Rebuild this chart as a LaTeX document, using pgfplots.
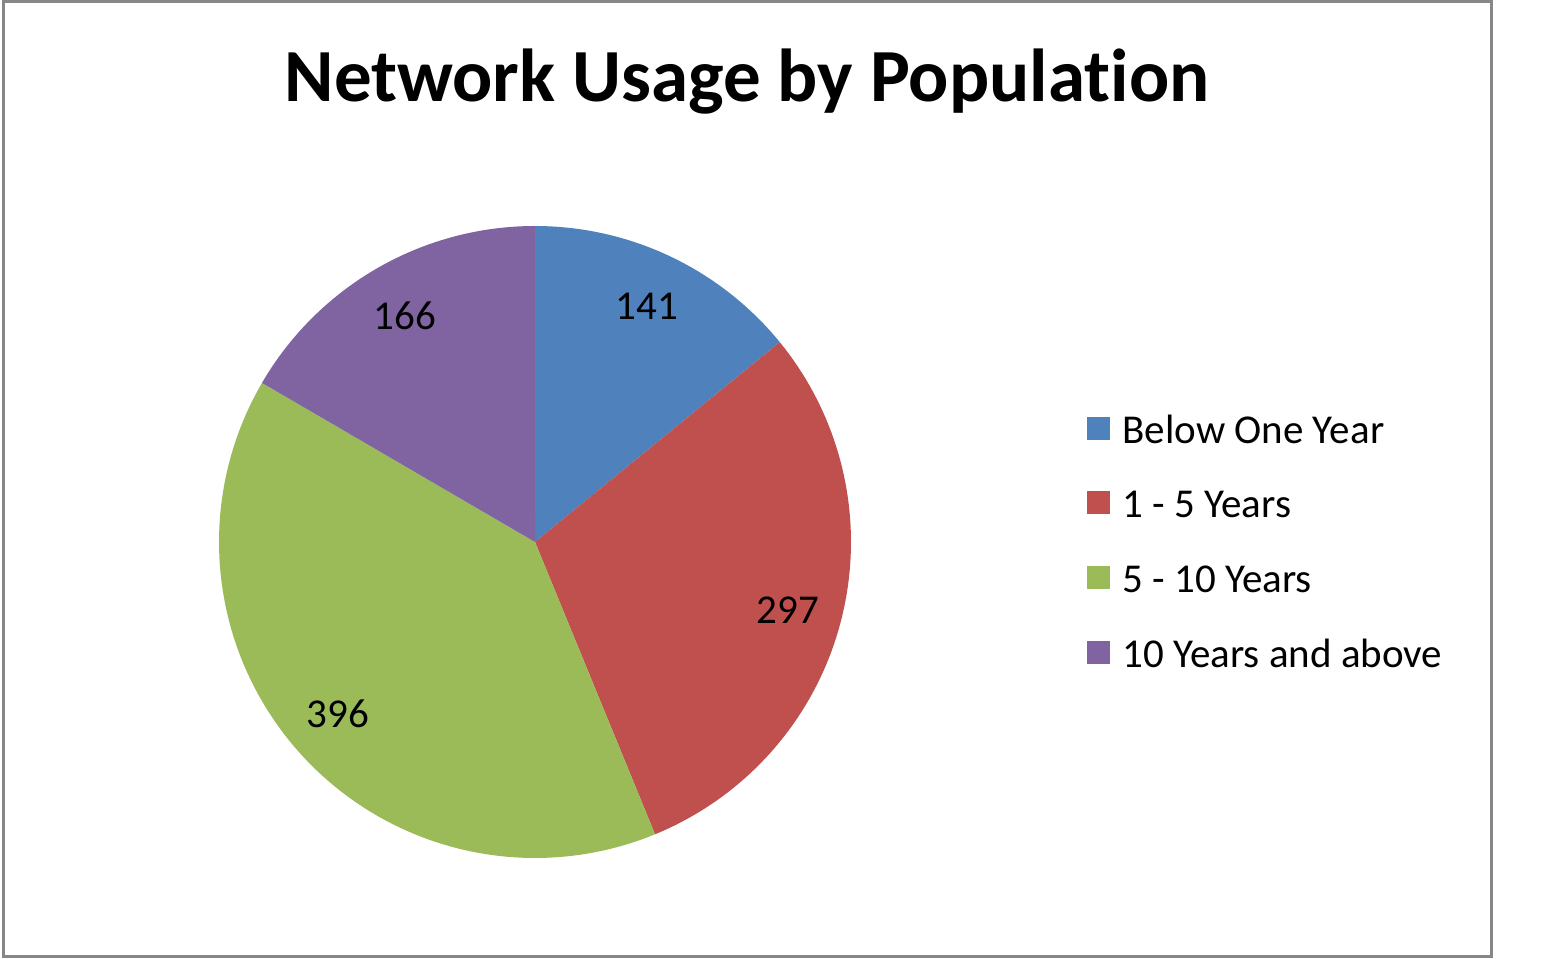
\documentclass[border=0pt]{standalone}
\usepackage{fontspec}
\setmainfont{Carlito}[Ligatures={NoCommon}]
\usepackage{pgfplots}
\usepackage{pgfplotstable}
\pgfplotsset{compat=1.18}

\definecolor{sblue}{HTML}{4F81BD}
\definecolor{sred}{HTML}{C0504D}
\definecolor{sgreen}{HTML}{9BBB59}
\definecolor{spurple}{HTML}{8064A2}
\definecolor{framegray}{HTML}{878787}

\pgfplotstableread{
label value
{Below One Year} 141
{1 - 5 Years} 297
{5 - 10 Years} 396
{10 Years and above} 166
}\piedata

\begin{document}
\begin{tikzpicture}
% slice angles, clockwise from 12 o'clock
\pgfplotstablegetelem{0}{value}\of\piedata \let\vA\pgfplotsretval
\pgfplotstablegetelem{1}{value}\of\piedata \let\vB\pgfplotsretval
\pgfplotstablegetelem{2}{value}\of\piedata \let\vC\pgfplotsretval
\pgfplotstablegetelem{3}{value}\of\piedata \let\vD\pgfplotsretval
\pgfmathsetmacro\tot{\vA+\vB+\vC+\vD}
\pgfmathsetmacro\aA{90}
\pgfmathsetmacro\aB{\aA-360*(\vA/\tot)}
\pgfmathsetmacro\aC{\aB-360*(\vB/\tot)}
\pgfmathsetmacro\aD{\aC-360*(\vC/\tot)}
\pgfmathsetmacro\aE{\aD-360*(\vD/\tot)}
% pie centre and radius in pixel units of the axis
\def\cx{535}\def\cy{417}\def\R{316}\def\lr{261}
\pgfmathsetmacro\mA{(\aA+\aB)/2}
\pgfmathsetmacro\mB{(\aB+\aC)/2}
\pgfmathsetmacro\mC{(\aC+\aD)/2}
\pgfmathsetmacro\mD{(\aD+\aE)/2}
\begin{axis}[
  width=771.5pt, height=479.5pt, scale only axis,
  xmin=0, xmax=1543, ymin=0, ymax=959,
  hide axis, clip=false,
  legend image code/.code={\fill[#1] (0pt,-3pt) rectangle (11.5pt,8.5pt);},
  legend cell align=left,
  legend style={at={(axis cs:1087,544)}, anchor=north west,
    draw=none, fill=none, inner sep=0pt, column sep=6pt, row sep=18.8pt,
    font=\fontsize{20.5}{24}\selectfont,
    nodes={inner sep=0pt, text height=14pt, text depth=4.5pt}},
]
\path (axis cs:0,0) rectangle (axis cs:1543,959);
\draw[framegray, line width=1.5pt] (axis cs:3,2) rectangle (axis cs:1491,957);

\addplot[fill=sblue, draw=none, domain=\aB:\aA, samples=80]
  ({\cx+\R*cos(x)},{\cy+\R*sin(x)}) -- (axis cs:\cx,\cy) -- cycle;
\addlegendentry{Below One Year}
\addplot[fill=sred, draw=none, domain=\aC:\aB, samples=80]
  ({\cx+\R*cos(x)},{\cy+\R*sin(x)}) -- (axis cs:\cx,\cy) -- cycle;
\addlegendentry{1 - 5 Years}
\addplot[fill=sgreen, draw=none, domain=\aD:\aC, samples=100]
  ({\cx+\R*cos(x)},{\cy+\R*sin(x)}) -- (axis cs:\cx,\cy) -- cycle;
\addlegendentry{5 - 10 Years}
\addplot[fill=spurple, draw=none, domain=\aE:\aD, samples=80]
  ({\cx+\R*cos(x)},{\cy+\R*sin(x)}) -- (axis cs:\cx,\cy) -- cycle;
\addlegendentry{10 Years and above}

\begin{scope}[every node/.style={font=\fontsize{20.5}{24}\selectfont, inner sep=0pt}]
\node at (axis cs:{\cx+\lr*cos(\mA)},{\cy+\lr*sin(\mA)}) {\vA};
\node at (axis cs:{\cx+\lr*cos(\mB)},{\cy+\lr*sin(\mB)-4}) {\vB};
\node at (axis cs:{\cx+\lr*cos(\mC)},{\cy+\lr*sin(\mC)}) {\vC};
\node at (axis cs:{\cx+\lr*cos(\mD)},{\cy+\lr*sin(\mD)}) {\vD};
\end{scope}

\node[anchor=base, font=\fontsize{37.5}{44}\selectfont\bfseries]
  at (axis cs:747,857) {Network Usage by Population};
\end{axis}
\end{tikzpicture}
\end{document}
